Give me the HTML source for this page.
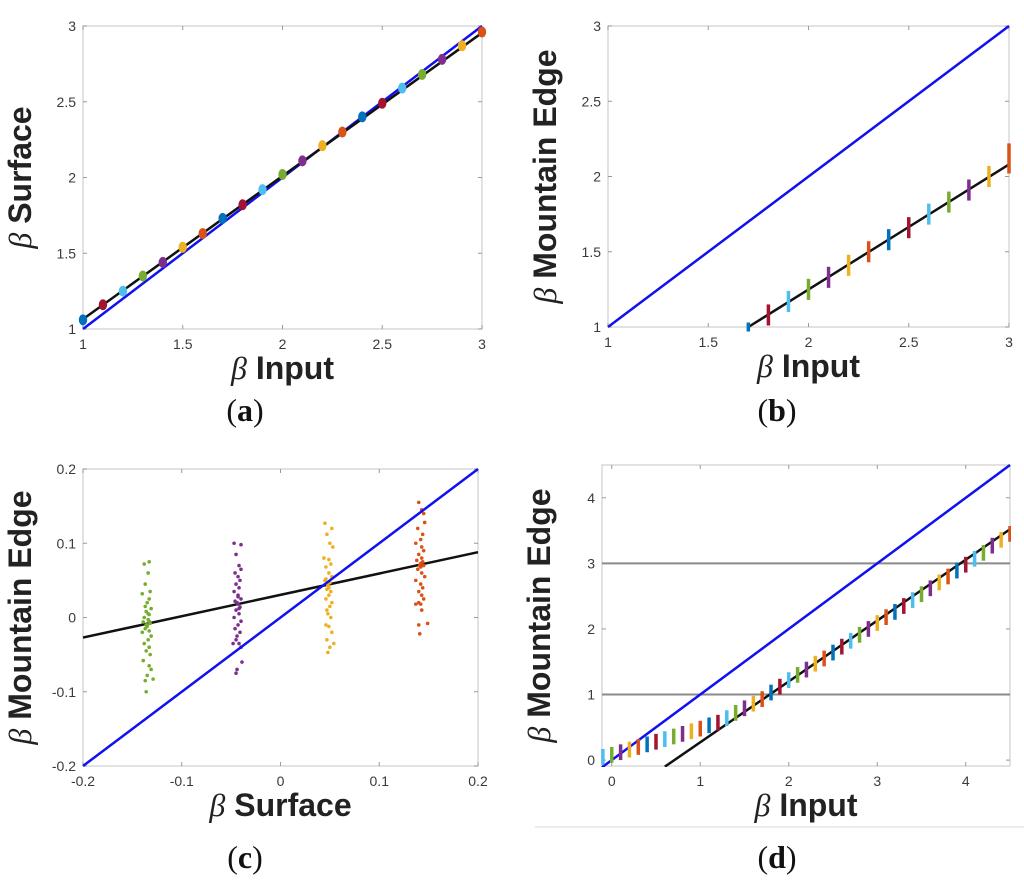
<!DOCTYPE html>
<html><head><meta charset="utf-8">
<style>
html,body{margin:0;padding:0;background:#fff;}
svg{display:block;}
.tick{font-family:"Liberation Sans",sans-serif;font-size:14px;fill:#3a3a3a;}
.atitle{font-family:"Liberation Sans",sans-serif;font-size:32px;font-weight:bold;fill:#222;}
.beta{font-family:"Liberation Serif",serif;font-style:italic;font-weight:normal;}
.cap{font-family:"Liberation Serif",serif;font-size:32px;fill:#111;}
</style></head>
<body>
<svg id="fig" width="1024" height="894" viewBox="0 0 1024 894" xmlns="http://www.w3.org/2000/svg">
<line x1="535" y1="827" x2="1024" y2="827" stroke="#e6e6e6" stroke-width="1.5"/>
<text class="cap" x="245" y="421" text-anchor="middle">(<tspan font-weight="bold">a</tspan>)</text>
<text class="cap" x="777" y="421" text-anchor="middle">(<tspan font-weight="bold">b</tspan>)</text>
<text class="cap" x="245" y="868" text-anchor="middle">(<tspan font-weight="bold">c</tspan>)</text>
<text class="cap" x="777" y="868" text-anchor="middle">(<tspan font-weight="bold">d</tspan>)</text>
</svg>
<script>
// ---- Panel A data ----
const aX = [1,1.1,1.2,1.3,1.4,1.5,1.6,1.7,1.8,1.9,2,2.1,2.2,2.3,2.4,2.5,2.6,2.7,2.8,2.9,3];
const aY = [1.06,1.16,1.25,1.35,1.44,1.54,1.63,1.73,1.82,1.92,2.02,2.11,2.21,2.3,2.4,2.49,2.59,2.68,2.78,2.87,2.96];
const aFit = [[1,1.065],[3,2.955]];
const aTicksX = [1,1.5,2,2.5,3];
const aTicksY = [1,1.5,2,2.5,3];
// ---- Panel B data ----
const bX = [1.7,1.8,1.9,2,2.1,2.2,2.3,2.4,2.5,2.6,2.7,2.8,2.9,3];
const bY = [1.0,1.08,1.17,1.25,1.33,1.41,1.5,1.58,1.66,1.75,1.83,1.91,2.0,2.12];
const bErr = [0.03,0.07,0.07,0.07,0.07,0.07,0.07,0.07,0.07,0.07,0.07,0.07,0.07,0.1];
const bFit = [[1.7,1.0],[3,2.08]];
const bTicksX = [1,1.5,2,2.5,3];
const bTicksY = [1,1.5,2,2.5,3];
// ---- Panel C data ----
const cCenters = [-0.135,-0.044,0.048,0.141];
const cGreen = [[0,-0.01],[0.002,0.075],[-0.003,0.072],[0.001,0.06],[-0.002,0.045],[0.003,0.035],[-0.005,0.032],[0.002,0.025],[0,0.02],[-0.002,0.015],[0.004,0.012],[-0.001,0.008],[0.002,0.004],[-0.003,0.0],[0.001,-0.003],[-0.004,-0.006],[0.003,-0.008],[0,-0.012],[-0.002,-0.015],[0.002,-0.018],[-0.005,-0.02],[0.004,-0.025],[0.001,-0.03],[-0.003,-0.035],[0.002,-0.04],[-0.001,-0.045],[0.003,-0.05],[-0.004,-0.058],[0.002,-0.065],[0.004,-0.07],[0,-0.078],[-0.002,-0.085],[0.006,-0.083],[-0.001,-0.1],[0.001,0.005],[-0.001,-0.01],[0.002,-0.005]];
const cPurple = [[0,0.02],[-0.003,0.1],[0.004,0.098],[-0.001,0.085],[0.002,0.07],[0.004,0.065],[-0.002,0.06],[0.001,0.055],[0.003,0.05],[-0.001,0.045],[0.002,0.04],[-0.003,0.035],[0.001,0.03],[0.004,0.025],[-0.002,0.022],[0.001,0.018],[0.003,0.014],[-0.001,0.01],[0.002,0.005],[-0.003,0.0],[0.004,-0.005],[0.001,-0.01],[-0.002,-0.015],[0.003,-0.02],[0,-0.025],[-0.001,-0.03],[0.002,-0.035],[0.004,-0.04],[-0.004,-0.035],[0.005,-0.06],[0,-0.07],[-0.001,-0.075],[0.001,0.028],[0.002,0.012]];
const cYellow = [[0,0.045],[-0.003,0.127],[0.004,0.12],[-0.001,0.112],[0.002,0.1],[0.005,0.095],[-0.004,0.08],[0.001,0.078],[0.003,0.072],[-0.002,0.068],[0.001,0.06],[0.004,0.055],[-0.003,0.05],[0.002,0.047],[0,0.043],[-0.001,0.038],[0.003,0.035],[0.001,0.03],[-0.002,0.025],[0.004,0.02],[0.002,0.015],[-0.001,0.01],[0,0.005],[0.003,0.0],[-0.002,-0.01],[0.001,-0.012],[0.004,-0.02],[-0.001,-0.03],[0.006,-0.035],[0.002,-0.04],[0,-0.047],[0.001,0.04],[-0.002,0.052]];
const cOrange = [[0,0.07],[-0.001,0.155],[0.002,0.145],[0.004,0.14],[0.005,0.128],[-0.002,0.12],[0.003,0.112],[0.001,0.105],[-0.004,0.1],[0.002,0.095],[0.004,0.09],[-0.001,0.085],[0.002,0.08],[-0.003,0.077],[0.001,0.073],[0.004,0.07],[-0.002,0.065],[0.002,0.06],[0.005,0.055],[-0.004,0.05],[0.001,0.045],[0.003,0.04],[-0.001,0.035],[0.002,0.03],[0.004,0.025],[-0.001,0.02],[0.001,0.018],[-0.004,0.018],[0.002,0.01],[-0.001,-0.01],[0.008,-0.008],[0,-0.022],[0.001,0.068],[0.003,0.075]];
const cFit = [[-0.2,-0.027],[0.2,0.088]];
const cTicks = [-0.2,-0.1,0,0.1,0.2];
// ---- Panel D data ----
const dX = [-0.1,0,0.1,0.2,0.3,0.4,0.5,0.6,0.7,0.8,0.9,1,1.1,1.2,1.3,1.4,1.5,1.6,1.7,1.8,1.9,2,2.1,2.2,2.3,2.4,2.5,2.6,2.7,2.8,2.9,3,3.1,3.2,3.3,3.4,3.5,3.6,3.7,3.8,3.9,4,4.1,4.2,4.3,4.4,4.5];
const dY = [0.05,0.08,0.12,0.16,0.2,0.24,0.28,0.32,0.36,0.4,0.44,0.48,0.53,0.57,0.64,0.72,0.79,0.86,0.93,1.03,1.12,1.22,1.3,1.38,1.47,1.55,1.64,1.73,1.82,1.91,2.0,2.09,2.18,2.26,2.35,2.44,2.53,2.62,2.71,2.8,2.89,2.98,3.07,3.16,3.27,3.36,3.45];
const dFit = [[0.6,-0.1],[4.5,3.52]];
const dTicksX = [0,1,2,3,4];
const dTicksY = [0,1,2,3,4];
const dHLines = [1,3];

const colors = ['#0072BD','#A2142F','#4DBEEE','#77AC30','#7E2F8E','#EDB120','#D95319'];
const svg = document.getElementById('fig');
const NS = 'http://www.w3.org/2000/svg';
function mk(tag, attrs, parent){ const e=document.createElementNS(NS,tag); for(const k in attrs) e.setAttribute(k,attrs[k]); (parent||svg).appendChild(e); return e; }

function makeAxes(name, L,R,T,B, x0,x1,y0,y1, ticksX, ticksY, fmt, xlab, ylab, pad){
  const g = mk('g',{});
  
  
  const sx = v => L + (v-x0)/(x1-x0)*(R-L);
  const sy = v => B - (v-y0)/(y1-y0)*(B-T);
  const box = mk('rect',{x:L,y:T,width:R-L,height:B-T,fill:'#fff',stroke:'#cfcfcf','stroke-width':1.2},g);
  
  
  ticksX.forEach(t=>{
    const x=sx(t);
    mk('line',{x1:x,y1:B,x2:x,y2:B-4,stroke:'#999'},g);
    mk('line',{x1:x,y1:T,x2:x,y2:T+4,stroke:'#999'},g);
    const tx = mk('text',{x:x,y:B+20,'text-anchor':'middle',class:'tick'},g);
    tx.textContent = fmt(t);
    
    
  });
  ticksY.forEach(t=>{
    const y=sy(t);
    mk('line',{x1:L,y1:y,x2:L+4,y2:y,stroke:'#999'},g);
    mk('line',{x1:R,y1:y,x2:R-4,y2:y,stroke:'#999'},g);
    const ty = mk('text',{x:L-7,y:y+5,'text-anchor':'end',class:'tick'},g);
    ty.textContent = fmt(t);
    
    
  });
  const xt = mk('text',{x:(L+R)/2,y:B+50,'text-anchor':'middle',class:'atitle'},g);
  xt.innerHTML = '<tspan class="beta">β</tspan> '+xlab;
  
  
  const cy=(T+B)/2, tx0=L-52;
  const yt = mk('text',{x:tx0,y:cy,'text-anchor':'middle',class:'atitle',transform:`rotate(-90 ${tx0} ${cy})`},g);
  yt.innerHTML = '<tspan class="beta">β</tspan> '+ylab;
  
  
  const clipId = name+'-clip';
  const cp = mk('clipPath',{id:clipId},g);
  mk('rect',{x:L-pad,y:T-pad,width:R-L+2*pad,height:B-T+2*pad},cp);
  const plot = mk('g',{'clip-path':`url(#${clipId})`},g);
  return {sx,sy,g,plot};
}
function line(ax, p, color, w, name){
  const l = mk('line',{x1:ax.sx(p[0][0]),y1:ax.sy(p[0][1]),x2:ax.sx(p[1][0]),y2:ax.sy(p[1][1]),stroke:color,'stroke-width':w},ax.plot);
  
  
}
const fmtPlain = v => String(v);

// Panel A
const A = makeAxes('panel-a',83,482,26,329,1,3,1,3,aTicksX,aTicksY,fmtPlain,'Input','Surface',8);
line(A,[[1,1],[3,3]],'#1010f0',2.5,'identity-line');
line(A,aFit,'#111',2.5,'fit-line');
aX.forEach((x,i)=>{
  const e = mk('ellipse',{cx:A.sx(x),cy:A.sy(aY[i]),rx:4.2,ry:5.5,fill:colors[i%7]},A.plot);
  
  
});

// Panel B
const Bp = makeAxes('panel-b',608,1009,26,327,1,3,1,3,bTicksX,bTicksY,fmtPlain,'Input','Mountain Edge',8);
line(Bp,[[1,1],[3,3]],'#1010f0',2.5,'identity-line');
line(Bp,bFit,'#111',2.5,'fit-line');
bX.forEach((x,i)=>{
  const e = mk('line',{x1:Bp.sx(x),x2:Bp.sx(x),y1:Bp.sy(bY[i]-bErr[i]),y2:Bp.sy(bY[i]+bErr[i]),stroke:colors[i%7],'stroke-width':3.5},Bp.plot);
  
  
});

// Panel C
const fmtC = v => v===0?'0':v.toFixed(1);
const C = makeAxes('panel-c',83,478,469,766,-0.2,0.2,-0.2,0.2,cTicks,cTicks,fmtC,'Surface','Mountain Edge',2);
line(C,cFit,'#111',2.5,'fit-line');
const clusters=[[cGreen,'#77AC30'],[cPurple,'#7E2F8E'],[cYellow,'#EDB120'],[cOrange,'#D95319']];
clusters.forEach((cl,k)=>{
  cl[0].forEach(p=>{
    const d = mk('circle',{cx:C.sx(cCenters[k]+p[0]),cy:C.sy(p[1]),r:1.8,fill:cl[1]},C.plot);
    
    
  });
});
line(C,[[-0.2,-0.2],[0.2,0.2]],'#1010f0',2.5,'identity-line');

// Panel D
const D = makeAxes('panel-d',602,1010,465,766,-0.11,4.5,-0.09,4.5,dTicksX,dTicksY,fmtPlain,'Input','Mountain Edge',1);
dHLines.forEach(h=>line(D,[[-0.11,h],[4.5,h]],'#8a8a8a',2,'reference-line'));
line(D,[[-0.11,-0.11],[4.5,4.5]],'#1010f0',2.5,'identity-line');
line(D,dFit,'#111',2.5,'fit-line');
dX.forEach((x,i)=>{
  const e = mk('line',{x1:D.sx(x),x2:D.sx(x),y1:D.sy(dY[i]-0.12),y2:D.sy(dY[i]+0.12),stroke:colors[(i+2)%7],'stroke-width':3.5},D.plot);
  
  
});
</script>
</body></html>
